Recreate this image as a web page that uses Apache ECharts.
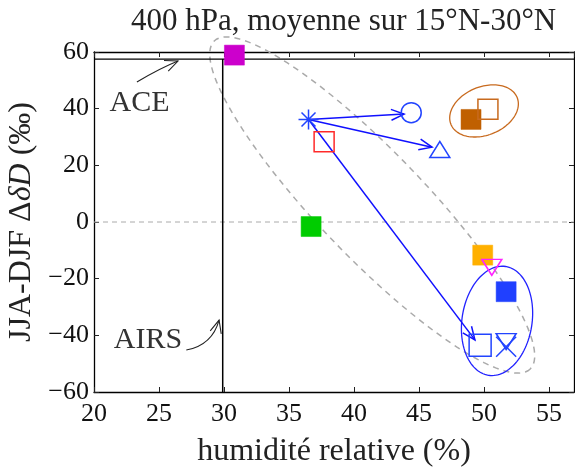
<!DOCTYPE html>
<html><head><meta charset="utf-8">
<script src="https://cdn.jsdelivr.net/npm/echarts@6/dist/echarts.min.js"></script>
<style>html,body{margin:0;padding:0;background:#fff}#c{width:575px;height:467px}</style>
</head><body><div id="c"></div>
<script>
// ---- data ----
const xTicks = [20, 25, 30, 35, 40, 45, 50, 55];
const yTicks = [-60, -40, -20, 0, 20, 40, 60];
const magentaFilled = [[30.8, 58.9]];
const blueAsterisk = [[36.5, 36.2]];
const blueCircle = [[44.4, 38.6]];
const redOpenSquare = [[37.7, 28.3]];
const blueTriUp = [[46.6, 25.6]];
const greenFilled = [[36.7, -1.6]];
const brownFilled = [[49.0, 36.2]];
const brownOpen = [[50.3, 39.8]];
const orangeFilled = [[49.9, -11.7]];
const magentaTriDown = [[50.6, -16.0]];
const blueFilled = [[51.7, -24.6]];
const blueOpenSquare = [[49.7, -43.5]];
const blueTriDown = [[51.7, -42.2]];
const blueCross = [[51.7, -44.0]];
const arrowsFrom = [[36.5, 36.2], [36.5, 36.2], [36.5, 36.2]];
const arrowsTo = [[43.85, 38.1], [46.0, 26.4], [49.3, -41.6]];
const aceLevel = 57.5;
const airsLevel = 29.9;
const zeroLevel = 0;
// loops: center, axis U, axis V (data units)
const grayLoop = [[41.4, 6.0], [12.15, -57.9], [-2.93, -13.0]];
const brownLoop = [[50.0, 39.2], [2.5, 5.2], [0.85, -7.6]];
const blueLoop = [[51.0, -34.9], [0.66, 19.2], [2.66, -1.93]];
// annotations: text position, arrow start, control, end
const aceLabel = ['ACE', [23.5, 42.0]];
const aceArrow = [[23.3, 49.4], [25.1, 54.3], [26.46, 56.8]];
const airsLabel = ['AIRS', [24.15, -41.6]];
const airsArrow = [[27.1, -45.2], [29.1, -43.4], [29.62, -34.6]];

const XMIN = 20, XMAX = 56.92, YMIN = -60, YMAX = 60;
const FONT = 'Liberation Serif';
const BLUE = '#2244ff', ARROWBLUE = '#1010ff';

const chart = echarts.init(document.getElementById('c'), null, {renderer: 'canvas'});

function head(p1, dir, len, ang) {
  const a = Math.atan2(dir[1], dir[0]);
  return [
    [p1[0] - len * Math.cos(a - ang), p1[1] - len * Math.sin(a - ang)],
    p1,
    [p1[0] - len * Math.cos(a + ang), p1[1] - len * Math.sin(a + ang)]
  ];
}

function loopSeries(loop, color, dashed) {
  return {
    type: 'custom', z: 1, silent: true,
    data: [loop[0]],
    renderItem: function (params, api) {
      const pts = [];
      for (let i = 0; i < 120; i++) {
        const t = i / 120 * Math.PI * 2;
        pts.push(api.coord([
          loop[0][0] + Math.cos(t) * loop[1][0] + Math.sin(t) * loop[2][0],
          loop[0][1] + Math.cos(t) * loop[1][1] + Math.sin(t) * loop[2][1]
        ]));
      }
      return {type: 'polygon', shape: {points: pts},
        style: {fill: 'none', stroke: color, lineWidth: dashed ? 1.5 : 1.3, lineDash: dashed ? [6, 5] : null}};
    }
  };
}

function curvedArrow(arr) {
  return {
    type: 'custom', z: 3, silent: true,
    data: [arr[0]],
    renderItem: function (params, api) {
      const a = api.coord(arr[0]), c = api.coord(arr[1]), b = api.coord(arr[2]);
      return {type: 'group', children: [
        {type: 'bezierCurve', shape: {x1: a[0], y1: a[1], cpx1: c[0], cpy1: c[1], x2: b[0], y2: b[1]},
          style: {fill: 'none', stroke: '#222', lineWidth: 1.1}},
        {type: 'polyline', shape: {points: head(b, [b[0] - c[0], b[1] - c[1]], 14, 0.42)},
          style: {fill: 'none', stroke: '#222', lineWidth: 1.1}}
      ]};
    }
  };
}

function textSeries(lbl) {
  return {
    type: 'custom', z: 3, silent: true,
    data: [lbl[1]],
    renderItem: function (params, api) {
      const p = api.coord(lbl[1]);
      return {type: 'text', x: p[0], y: p[1],
        style: {text: lbl[0], fill: '#333', font: '30px "' + FONT + '"', textAlign: 'center', textVerticalAlign: 'middle'}};
    }
  };
}

function scatter(data, symbol, size, color, filled, rotate) {
  return {
    type: 'scatter', z: 5, silent: true, data: data,
    symbol: symbol, symbolSize: size, symbolRotate: rotate || 0, symbolKeepAspect: true,
    itemStyle: filled ? {color: color, borderColor: color, borderWidth: 0.5, opacity: 1}
                      : {color: 'rgba(0,0,0,0)', borderColor: color, borderWidth: 1.5, opacity: 1}
  };
}

function hline(y, color, dashed, width) {
  return {type: 'line', z: 2, silent: true, symbol: 'none', animation: false,
    data: [[XMIN, y], [XMAX, y]],
    lineStyle: {color: color, width: width, type: dashed ? [5, 4] : 'solid'}};
}

const axisCommon = {
  axisLine: {show: true, onZero: false, lineStyle: {color: '#000', width: 1.3}},
  axisTick: {show: true, inside: true, length: 5, lineStyle: {color: '#222', width: 1}},
  splitLine: {show: false}
};

const option = {
  animation: false,
  backgroundColor: '#fff',
  title: {text: '400 hPa, moyenne sur 15°N-30°N', left: 126, top: 1,
    textStyle: {fontFamily: FONT, fontSize: 31, fontWeight: 'normal', color: '#222'}},
  grid: {left: 94, top: 52, right: 1, bottom: 75, containLabel: false, outerBoundsMode: 'none'},
  xAxis: [
    Object.assign({type: 'value', min: XMIN, max: XMAX, interval: 5, position: 'bottom',
      name: 'humidité relative (%)', nameLocation: 'middle', nameGap: 44,
      nameTextStyle: {fontFamily: FONT, fontSize: 32, color: '#222'},
      axisLabel: {margin: 9, fontFamily: FONT, fontSize: 26, color: '#111', showMaxLabel: false,
        formatter: v => xTicks.indexOf(v) >= 0 ? String(v) : ''}}, axisCommon),
    Object.assign({type: 'value', min: XMIN, max: XMAX, interval: 5, position: 'top',
      axisLabel: {show: false}}, axisCommon)
  ],
  yAxis: [
    Object.assign({type: 'value', min: YMIN, max: YMAX, interval: 20, position: 'left',
      name: 'JJA-DJF Δ{i|δD} (‰)', nameLocation: 'middle', nameGap: 53,
      nameTextStyle: {fontFamily: FONT, fontSize: 32, color: '#222',
        rich: {i: {fontFamily: FONT, fontSize: 32, fontStyle: 'italic', color: '#222'}}},
      axisLabel: {margin: 5, fontFamily: FONT, fontSize: 26, color: '#111',
        formatter: v => yTicks.indexOf(v) >= 0 ? String(v).replace('-', '\u2212') : ''}}, axisCommon),
    Object.assign({type: 'value', min: YMIN, max: YMAX, interval: 20, position: 'right',
      axisLabel: {show: false}}, axisCommon)
  ],
  series: [
    hline(zeroLevel, '#aaaaaa', true, 1),
    hline(aceLevel, '#000', false, 1.3),
    {type: 'line', z: 2, silent: true, symbol: 'none', data: [[airsLevel, YMIN], [airsLevel, aceLevel]],
      lineStyle: {color: '#000', width: 1.5}},
    loopSeries(grayLoop, '#aaaaaa', true),
    loopSeries(brownLoop, '#c86a1e', false),
    loopSeries(blueLoop, '#2222ff', false),
    {
      type: 'custom', z: 4, silent: true,
      data: arrowsFrom.map((p, i) => [p[0], p[1], arrowsTo[i][0], arrowsTo[i][1]]),
      renderItem: function (params, api) {
        const p0 = api.coord(arrowsFrom[params.dataIndex]);
        const p1 = api.coord(arrowsTo[params.dataIndex]);
        return {type: 'group', children: [
          {type: 'line', shape: {x1: p0[0], y1: p0[1], x2: p1[0], y2: p1[1]},
            style: {stroke: ARROWBLUE, lineWidth: 1.5}},
          {type: 'polyline', shape: {points: head(p1, [p1[0] - p0[0], p1[1] - p0[1]], 14, 0.4)},
            style: {fill: 'none', stroke: ARROWBLUE, lineWidth: 1.5}}
        ]};
      }
    },
    curvedArrow(aceArrow),
    curvedArrow(airsArrow),
    textSeries(aceLabel),
    textSeries(airsLabel),
    scatter(magentaFilled, 'rect', 20, '#cc00cc', true),
    scatter(blueAsterisk, 'path://M10,0L10,20M0,10L20,10M3,3L17,17M3,17L17,3', 20, BLUE, false),
    scatter(blueCircle, 'circle', 20, BLUE, false),
    scatter(redOpenSquare, 'rect', 20, '#ff2a2a', false),
    scatter(blueTriUp, 'triangle', [20, 16], BLUE, false),
    scatter(greenFilled, 'rect', 20, '#00cc00', true),
    scatter(brownFilled, 'rect', 20, '#c06000', true),
    scatter(brownOpen, 'rect', 20, '#c86a1e', false),
    scatter(orangeFilled, 'rect', 20, '#ffb000', true),
    scatter(magentaTriDown, 'triangle', [20, 16], '#ff22ff', false, 180),
    scatter(blueFilled, 'rect', 20, '#2040ff', true),
    scatter(blueOpenSquare, 'rect', 22, BLUE, false),
    scatter(blueTriDown, 'triangle', [20, 16], BLUE, false, 180),
    scatter(blueCross, 'path://M0,0L20,20M0,20L20,0', 20, BLUE, false)
  ]
};
chart.setOption(option);
</script>
</body></html>
